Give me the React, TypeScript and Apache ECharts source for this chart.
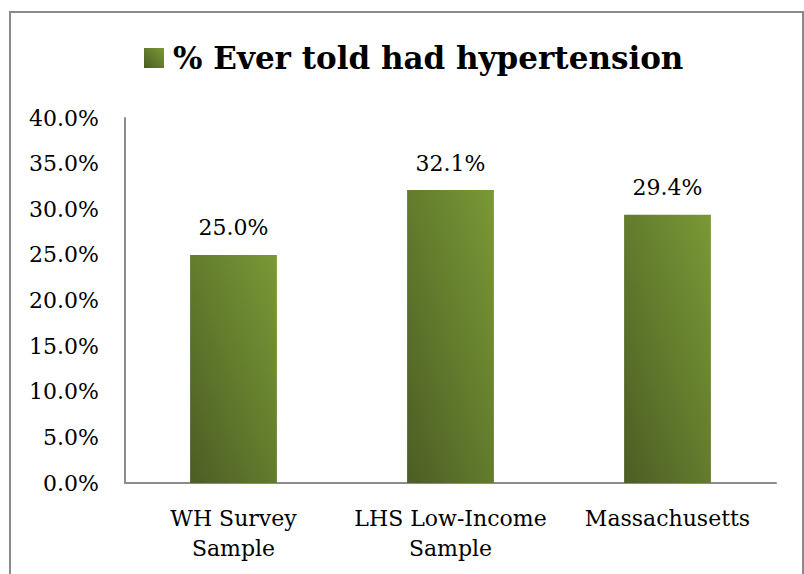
import React, { useEffect, useRef } from "react";
import * as echarts from "echarts";

const categories = ["WH Survey\nSample", "LHS Low-Income\nSample", "Massachusetts"];
const seriesName = "% Ever told had hypertension";
const values = [25.0, 32.1, 29.4];
const yMin = 0;
const yMax = 40;
const yInterval = 5;

const FONT = "'DejaVu Serif', serif";

export default function App() {
  const ref = useRef<HTMLDivElement>(null);
  useEffect(() => {
    if (!ref.current) return;
    const chart = echarts.init(ref.current, null, { renderer: "svg" });
    const grad = new echarts.graphic.LinearGradient(0, 1, 1, 0, [
      { offset: 0, color: "#4b5e24" },
      { offset: 1, color: "#7a9936" },
    ]);
    chart.setOption({
      animation: false,
      backgroundColor: "#ffffff",
      graphic: [
        {
          type: "rect",
          shape: { x: 10, y: 12, width: 793, height: 570 },
          style: { fill: "none", stroke: "#8a8a8a", lineWidth: 2 },
          silent: true,
        },
      ],
      legend: {
        left: 139,
        top: 37,
        itemWidth: 20,
        itemHeight: 20,
        itemGap: 10,
        icon: "rect",
        textStyle: {
          fontFamily: FONT,
          fontWeight: "bold",
          fontSize: 31,
          lineHeight: 32,
          padding: [0, 0, 0, 4],
          color: "#000",
        },
        data: [{ name: seriesName, itemStyle: { color: grad } }],
      },
      grid: { left: 125, right: 28, top: 118, bottom: 91, containLabel: false },
      xAxis: {
        type: "category",
        data: categories,
        axisLine: { lineStyle: { color: "#8c8c8c", width: 2 } },
        axisTick: { show: false },
        axisLabel: {
          fontFamily: FONT,
          fontSize: 22,
          color: "#000",
          lineHeight: 30,
          margin: 20,
          interval: 0,
        },
      },
      yAxis: {
        type: "value",
        min: yMin,
        max: yMax,
        interval: yInterval,
        axisLine: { show: true, lineStyle: { color: "#8c8c8c", width: 2 } },
        axisTick: { show: false },
        splitLine: { show: false },
        axisLabel: {
          fontFamily: FONT,
          fontSize: 22,
          color: "#000",
          margin: 26,
          padding: [8, 0, 0, 0],
          formatter: (v: number) => v.toFixed(1) + "%",
        },
      },
      series: [
        {
          name: seriesName,
          type: "bar",
          data: values,
          barWidth: "40%",
          itemStyle: { color: grad },
          label: {
            show: true,
            position: "top",
            distance: 16,
            fontFamily: FONT,
            fontSize: 22,
            color: "#000",
            formatter: (p: any) => Number(p.value).toFixed(1) + "%",
          },
        },
      ],
    });
    return () => chart.dispose();
  }, []);
  return (
    <div
      ref={ref}
      style={{ position: "absolute", left: 0, top: 0, width: 804, height: 574 }}
    />
  );
}
